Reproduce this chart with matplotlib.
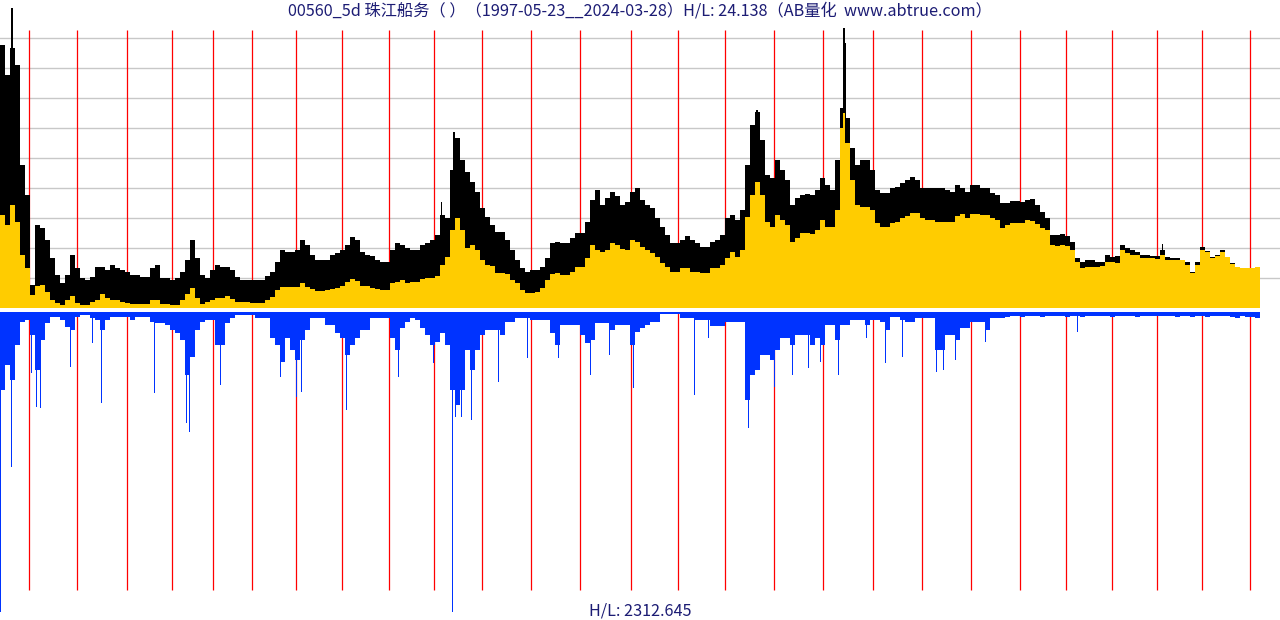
import numpy as np
import matplotlib
matplotlib.use("Agg")
import matplotlib.pyplot as plt

plt.rcParams['font.family'] = ['Noto Sans CJK SC', 'DejaVu Sans']

# ---------------- data (bar index, 5-bar bins) ----------------
bin_width = 5
high_level = [
    263, 233, 260, 243, 143, 113, 23, 83, 80, 68,
    50, 33, 25, 33, 53, 40, 30, 28, 31, 41,
    41, 38, 43, 40, 38, 36, 33, 33, 31, 31,
    40, 43, 30, 30, 28, 30, 36, 48, 68, 50,
    33, 30, 38, 43, 41, 41, 38, 31, 28, 28,
    28, 28, 28, 32, 36, 46, 58, 56, 56, 58,
    68, 63, 53, 48, 48, 48, 53, 55, 58, 63,
    71, 68, 56, 53, 52, 48, 46, 46, 58, 65,
    63, 60, 58, 58, 63, 65, 68, 73, 93, 90,
    138, 170, 148, 136, 126, 116, 100, 91, 83, 76,
    76, 68, 58, 48, 40, 36, 38, 38, 41, 50,
    65, 66, 65, 65, 70, 75, 75, 86, 108, 118,
    103, 110, 116, 112, 103, 106, 116, 120, 108, 103,
    100, 90, 81, 73, 65, 65, 68, 72, 68, 65,
    61, 61, 66, 68, 73, 90, 93, 88, 98, 143,
    183, 196, 168, 133, 130, 148, 138, 128, 103, 110,
    113, 114, 113, 118, 130, 123, 118, 148, 200, 190,
    160, 143, 148, 148, 138, 118, 115, 115, 120, 121,
    125, 128, 131, 128, 120, 120, 120, 120, 120, 118,
    116, 123, 120, 116, 123, 123, 120, 120, 115, 113,
    105, 105, 107, 107, 106, 108, 109, 103, 96, 90,
    73, 73, 74, 72, 66, 50, 46, 48, 48, 46,
    46, 53, 51, 52, 63, 60, 58, 56, 53, 53,
    52, 52, 58, 51, 50, 50, 48, 46, 36, 46,
    61, 57, 51, 53, 58, 51, 45, 41, 40, 40,
    40, 40,
]
high_spike_index = [11, 12, 441, 453, 454, 756, 757, 843, 844, 845, 1162]
high_spike_level = [300, 300, 106, 176, 176, 198, 198, 280, 280, 265, 64]
close_level = [
    93, 83, 103, 86, 53, 40, 13, 22, 23, 16,
    8, 5, 3, 8, 12, 5, 3, 3, 6, 8,
    14, 10, 8, 8, 6, 5, 4, 4, 4, 4,
    8, 8, 4, 4, 3, 3, 8, 14, 20, 10,
    4, 6, 8, 10, 10, 12, 9, 6, 6, 6,
    5, 5, 5, 8, 11, 18, 21, 21, 21, 21,
    25, 21, 19, 17, 17, 18, 19, 20, 22, 26,
    29, 27, 22, 22, 20, 19, 18, 18, 25, 26,
    28, 25, 26, 26, 29, 30, 30, 32, 43, 51,
    78, 90, 78, 60, 63, 58, 48, 43, 42, 35,
    35, 34, 28, 25, 18, 15, 15, 16, 20, 28,
    34, 35, 33, 33, 36, 41, 41, 50, 63, 58,
    56, 58, 65, 63, 59, 58, 68, 66, 61, 58,
    55, 51, 45, 41, 36, 36, 40, 40, 36, 36,
    35, 35, 40, 40, 43, 50, 56, 51, 58, 91,
    113, 126, 113, 86, 81, 93, 88, 83, 66, 70,
    75, 75, 74, 78, 88, 81, 81, 98, 180, 165,
    128, 103, 101, 101, 98, 85, 81, 81, 85, 86,
    90, 92, 95, 95, 90, 88, 88, 86, 86, 86,
    86, 92, 94, 90, 94, 94, 93, 93, 90, 88,
    80, 83, 85, 85, 85, 88, 87, 84, 80, 78,
    63, 62, 63, 62, 58, 46, 40, 41, 41, 41,
    42, 46, 46, 45, 58, 55, 53, 53, 50, 50,
    50, 49, 53, 48, 48, 48, 48, 43, 35, 43,
    58, 56, 50, 52, 56, 51, 44, 41, 40, 40,
    40, 41,
]
close_spike_index = [843, 844]
close_spike_level = [195, 195]
volume_level = [
    78, 53, 68, 33, 10, 8, 23, 58, 28, 11,
    5, 5, 8, 15, 18, 5, 3, 3, 6, 8,
    18, 8, 5, 5, 5, 5, 8, 5, 5, 5,
    10, 11, 11, 13, 18, 21, 28, 63, 45, 18,
    10, 8, 8, 33, 33, 11, 6, 3, 3, 3,
    3, 6, 6, 6, 26, 33, 50, 26, 38, 48,
    28, 18, 6, 6, 6, 13, 13, 21, 26, 43,
    33, 26, 18, 18, 6, 6, 6, 6, 26, 38,
    16, 10, 6, 8, 16, 23, 33, 30, 21, 33,
    78, 93, 78, 38, 58, 38, 23, 18, 18, 18,
    23, 10, 10, 6, 6, 6, 8, 8, 8, 8,
    21, 33, 13, 13, 13, 13, 23, 31, 28, 11,
    11, 11, 18, 13, 13, 13, 33, 20, 16, 13,
    10, 10, 2, 2, 2, 2, 6, 6, 6, 8,
    8, 8, 14, 14, 14, 10, 10, 10, 10, 88,
    63, 58, 43, 43, 48, 38, 26, 26, 33, 23,
    23, 23, 33, 26, 33, 13, 13, 28, 13, 13,
    8, 8, 8, 13, 8, 8, 10, 18, 5, 5,
    8, 10, 10, 6, 6, 6, 6, 38, 38, 23,
    23, 28, 16, 16, 10, 10, 10, 18, 6, 6,
    6, 5, 4, 4, 5, 4, 4, 4, 5, 4,
    4, 4, 4, 5, 4, 4, 5, 4, 4, 4,
    4, 4, 5, 4, 4, 4, 4, 5, 4, 4,
    4, 4, 4, 4, 4, 5, 4, 4, 5, 4,
    4, 5, 4, 4, 4, 4, 5, 6, 4, 5,
    5, 6,
]
spike_index = [0, 11, 31, 36, 40, 70, 92, 101, 154, 186, 189, 220, 280, 296,
               301, 346, 398, 433, 452, 455, 461, 471, 498, 527, 558, 590, 609,
               633, 694, 708, 748, 774, 792, 808, 820, 838, 866, 885, 902, 936,
               943, 955, 985, 1077]
spike_volume = [300, 155, 61, 95, 96, 55, 31, 91, 81, 111, 120, 73, 65, 85,
                80, 98, 65, 51, 300, 105, 105, 108, 70, 46, 46, 63, 43,
                76, 83, 26, 116, 75, 63, 56, 50, 63, 26, 51, 45, 60,
                58, 48, 30, 20]
year_index = [29, 77, 127, 172, 213, 252, 296, 342, 389, 434, 482, 531, 580,
              631, 678, 725, 774, 823, 873, 922, 971, 1020, 1066, 1112, 1157,
              1202, 1250]
grid_levels = [30, 60, 90, 120, 150, 180, 210, 240, 270]

title = "00560_5d 珠江船务（ ）（1997-05-23__2024-03-28）H/L: 24.138（AB量化  www.abtrue.com）"
bottom_label = "H/L: 2312.645"

# ---------------- figure ----------------
W, H = 1280, 620
fig = plt.figure(figsize=(W / 100, H / 100), dpi=100)
fig.patch.set_facecolor('white')

edges = np.arange(len(high_level) + 1) * bin_width
hi = np.append(high_level, high_level[-1])
cl = np.append(close_level, close_level[-1])
vo = np.append(volume_level, volume_level[-1])

ax1 = fig.add_axes([0, 1 - 308 / H, 1, 308 / H])
ax1.set_xlim(0, W)
ax1.set_ylim(0, 308)
ax1.axis('off')
for g in grid_levels:
    ax1.axhline(g, color='#c8c8c8', lw=1.0, zorder=1)
ax1.vlines(year_index, 0, 278, color='#ff0000', lw=0.9, zorder=2)
ax1.fill_between(edges, 0, hi, step='post', color='black', lw=0, zorder=3, antialiased=False)
ax1.bar(high_spike_index, high_spike_level, width=1.0, align='edge', color='black', lw=0, zorder=3)
ax1.fill_between(edges, 0, cl, step='post', color='#ffcc00', lw=0, zorder=4, antialiased=False)
ax1.bar(close_spike_index, close_spike_level, width=1.0, align='edge', color='#ffcc00', lw=0, zorder=4)

ax2 = fig.add_axes([0, 0, 1, 308 / H])
ax2.set_xlim(0, W)
ax2.set_ylim(308, 0)
ax2.axis('off')
ax2.vlines(year_index, 0, 278, color='#ff0000', lw=0.9, zorder=2)
ax2.fill_between(edges, 0, vo, step='post', color='#0033ff', lw=0, zorder=3, antialiased=False)
ax2.bar(spike_index, spike_volume, width=1.0, align='edge', color='#0033ff', lw=0, zorder=3)

fig.text(0.5, 1 - 11 / H, title, ha='center', va='center', fontsize=11.7, color='#1c1c74')
fig.text(0.5, 1 - 611 / H, bottom_label, ha='center', va='center', fontsize=11.7, color='#1c1c74')

fig.savefig('out.png', dpi=100, facecolor='white')
